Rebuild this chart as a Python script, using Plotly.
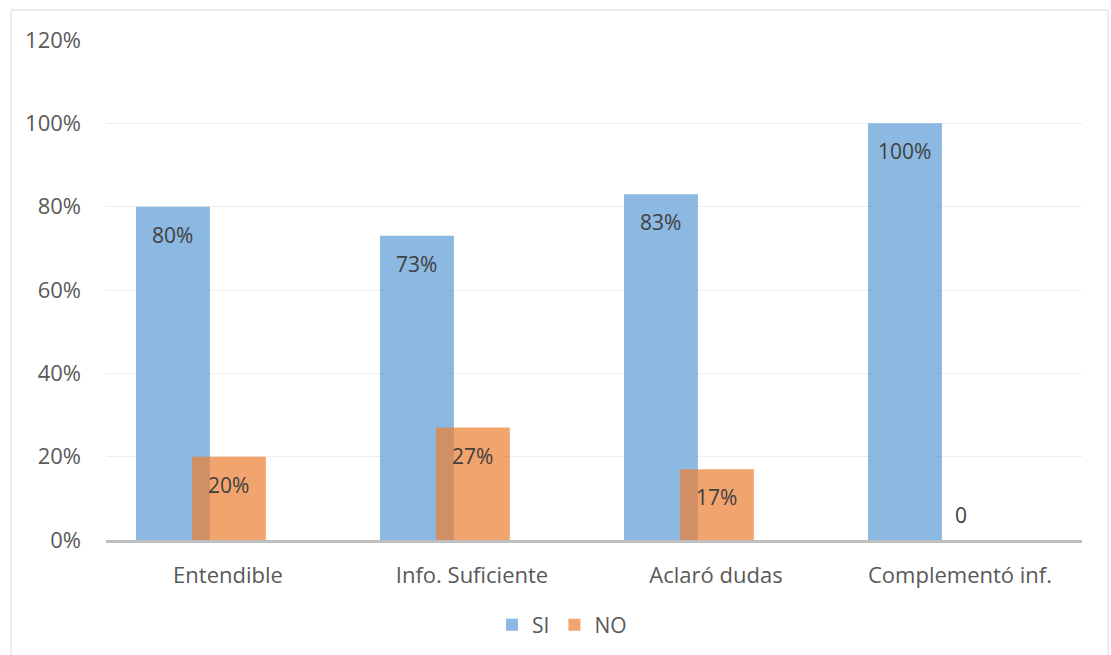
import plotly.graph_objects as go

categories = ["Entendible", "Info. Suficiente", "Aclaró dudas", "Complementó inf."]
si_values = [0.80, 0.73, 0.83, 1.00]
no_values = [0.20, 0.27, 0.17, 0.00]
y_ticks = [0, 0.2, 0.4, 0.6, 0.8, 1.0, 1.2]

W, H = 1111, 655
ML, MR, MT, MB = 106, 29, 40, 115
PW, PH = W - ML - MR, H - MT - MB

FONT = "Open Sans"
BAR_W = 0.303
SI_OFF = -0.377
NO_OFF = -0.148

fig = go.Figure()
fig.add_trace(go.Bar(x=categories, y=si_values, name="SI", width=BAR_W, offset=SI_OFF,
                     marker=dict(color="rgba(91,155,213,0.7)", line=dict(width=0))))
fig.add_trace(go.Bar(x=categories, y=no_values, name="NO", width=BAR_W, offset=NO_OFF,
                     marker=dict(color="rgba(237,125,49,0.7)", line=dict(width=0))))

def label(v):
    return f"{round(v*100)}%" if v > 0 else "0"

annotations = []
for series, off in ((si_values, SI_OFF), (no_values, NO_OFF)):
    for i, v in enumerate(series):
        annotations.append(dict(
            x=i + off + BAR_W / 2, y=v, xref="x", yref="y",
            text=label(v), showarrow=False, yanchor="middle", xanchor="center",
            yshift=-28 if v > 0 else 25,
            font=dict(family=FONT, size=21, color="#404040")))

fig.update_layout(
    width=W, height=H,
    margin=dict(l=ML, r=MR, t=MT, b=MB, pad=0, autoexpand=False),
    paper_bgcolor="white", plot_bgcolor="white",
    barmode="overlay",
    showlegend=True,
    legend=dict(orientation="h", x=(562 - ML) / PW, xanchor="center",
                y=(H - MB - 625) / PH, yanchor="middle",
                font=dict(family=FONT, size=21, color="#595959"),
                itemwidth=30, traceorder="normal"),
    xaxis=dict(range=[-0.5, 3.5], showgrid=False, showline=True, linecolor="#BFBFBF",
               linewidth=2.5, ticks="", ticklabelstandoff=14, automargin=False,
               tickfont=dict(family=FONT, size=22, color="#595959"), fixedrange=True),
    yaxis=dict(range=[0, 1.2], tickvals=y_ticks, tickformat=".0%", showgrid=True,
               gridcolor="#EDEDED", gridwidth=1, zeroline=False, showline=False,
               ticks="", ticklabelstandoff=24, automargin=False,
               tickfont=dict(family=FONT, size=22, color="#595959"), fixedrange=True),
    annotations=annotations,
    shapes=[dict(type="rect", xref="paper", yref="paper",
                 x0=(11 - ML) / PW, x1=(1108 - ML) / PW,
                 y0=(H - MB - 700) / PH, y1=(H - MB - 10) / PH,
                 line=dict(color="#D9D9D9", width=1), fillcolor="rgba(0,0,0,0)",
                 layer="below")],
)

fig.write_html("out.html")
